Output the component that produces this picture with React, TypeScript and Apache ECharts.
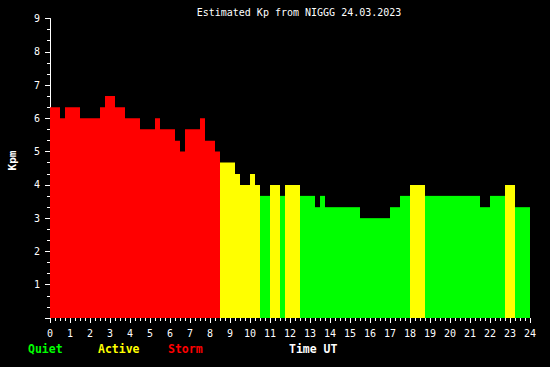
import React, { useEffect, useRef } from "react";
import * as echarts from "echarts";

const titleText = "Estimated Kp from NIGGG 24.03.2023";
const yAxisName = "Kpm";
const xAxisName = "Time UT";
const xTickLabels = ["0","1","2","3","4","5","6","7","8","9","10","11","12","13","14","15","16","17","18","19","20","21","22","23","24"];
const yTickLabels = ["", "1", "2", "3", "4", "5", "6", "7", "8", "9"];
const legendNames = ["Quiet", "Active", "Storm"];
const legendColors = ["#00ff00", "#ffff00", "#ff0000"];

// Kp estimated every 15 minutes (96 slots), 24.03.2023
const kpValues = [
  6.33, 6.33, 6.0, 6.33,
  6.33, 6.33, 6.0, 6.0,
  6.0, 6.0, 6.33, 6.67,
  6.67, 6.33, 6.33, 6.0,
  6.0, 6.0, 5.67, 5.67,
  5.67, 6.0, 5.67, 5.67,
  5.67, 5.33, 5.0, 5.67,
  5.67, 5.67, 6.0, 5.33,
  5.33, 5.0, 4.67, 4.67,
  4.67, 4.33, 4.0, 4.0,
  4.33, 4.0, 3.67, 3.67,
  4.0, 4.0, 3.67, 4.0,
  4.0, 4.0, 3.67, 3.67,
  3.67, 3.33, 3.67, 3.33,
  3.33, 3.33, 3.33, 3.33,
  3.33, 3.33, 3.0, 3.0,
  3.0, 3.0, 3.0, 3.0,
  3.33, 3.33, 3.67, 3.67,
  4.0, 4.0, 4.0, 3.67,
  3.67, 3.67, 3.67, 3.67,
  3.67, 3.67, 3.67, 3.67,
  3.67, 3.67, 3.33, 3.33,
  3.67, 3.67, 3.67, 4.0,
  4.0, 3.33, 3.33, 3.33,
];
const slotHours = 0.25;

const MONO = "DejaVu Sans Mono";

function colorFor(v: number): string {
  if (v >= 4.995) return legendColors[2];
  if (v >= 3.995) return legendColors[1];
  return legendColors[0];
}

export default function App() {
  const ref = useRef<HTMLDivElement>(null);
  useEffect(() => {
    document.body.style.margin = "0";
    const chart = echarts.init(ref.current!, null, { renderer: "svg" });
    const data = kpValues.map((v, i) => [i * slotHours, v]);
    chart.setOption({
      animation: false,
      backgroundColor: "#000000",
      grid: {
        left: 50,
        top: 18.5,
        width: 480,
        height: 299.5,
        containLabel: false,
        outerBoundsMode: "none",
      },
      xAxis: {
        type: "value",
        min: 0,
        max: 24,
        interval: 1,
        axisLine: { show: false },
        axisTick: { show: true, length: 5, lineStyle: { color: "#ffffff", width: 1 } },
        minorTick: { show: true, splitNumber: 4, length: 3, lineStyle: { color: "#ffffff", width: 1 } },
        splitLine: { show: false },
        minorSplitLine: { show: false },
        axisLabel: {
          color: "#ffffff",
          fontFamily: MONO,
          fontSize: 10,
          margin: 10,
          formatter: (val: number) => xTickLabels[Math.round(val)] ?? "",
        },
      },
      yAxis: {
        type: "value",
        min: 0,
        max: 9,
        interval: 1,
        axisLine: { show: true, lineStyle: { color: "#ffffff", width: 1 } },
        axisTick: { show: true, length: 5, lineStyle: { color: "#ffffff", width: 1 } },
        minorTick: { show: true, splitNumber: 3, length: 3, lineStyle: { color: "#ffffff", width: 1 } },
        splitLine: { show: false },
        minorSplitLine: { show: false },
        axisLabel: {
          color: "#ffffff",
          fontFamily: MONO,
          fontSize: 10,
          margin: 10,
          formatter: (val: number) => yTickLabels[Math.round(val)] ?? "",
        },
      },
      series: [
        {
          type: "custom",
          data,
          encode: { x: 0, y: 1 },
          renderItem: (params: any, api: any) => {
            const t = api.value(0);
            const v = api.value(1);
            const p0 = api.coord([t, 0]);
            const p1 = api.coord([t + slotHours, v]);
            return {
              type: "rect",
              shape: {
                x: p0[0],
                y: p1[1],
                width: p1[0] - p0[0],
                height: p0[1] - p1[1],
              },
              style: { fill: colorFor(v), stroke: null },
            };
          },
        },
      ],
      graphic: [
        {
          type: "text",
          x: 299,
          y: 12,
          style: {
            text: titleText,
            fill: "#ffffff",
            font: `10px '${MONO}'`,
            align: "center",
            verticalAlign: "middle",
          },
        },
        {
          type: "text",
          x: 12,
          y: 160.5,
          rotation: Math.PI / 2,
          style: {
            text: yAxisName,
            fill: "#ffffff",
            font: `bold 11px '${MONO}'`,
            align: "center",
            verticalAlign: "middle",
          },
        },
        ...legendNames.map((name, i) => ({
          type: "text",
          x: 28 + i * 70,
          y: 349,
          style: {
            text: name,
            fill: legendColors[i],
            font: `bold 11.5px '${MONO}'`,
            align: "left",
            verticalAlign: "middle",
          },
        })),
        {
          type: "text",
          x: 289,
          y: 349,
          style: {
            text: xAxisName,
            fill: "#ffffff",
            font: `bold 11.5px '${MONO}'`,
            align: "left",
            verticalAlign: "middle",
          },
        },
      ],
    });
    return () => chart.dispose();
  }, []);
  return (
    <div
      ref={ref}
      style={{ position: "fixed", left: 0, top: 0, width: 550, height: 367 }}
    />
  );
}
